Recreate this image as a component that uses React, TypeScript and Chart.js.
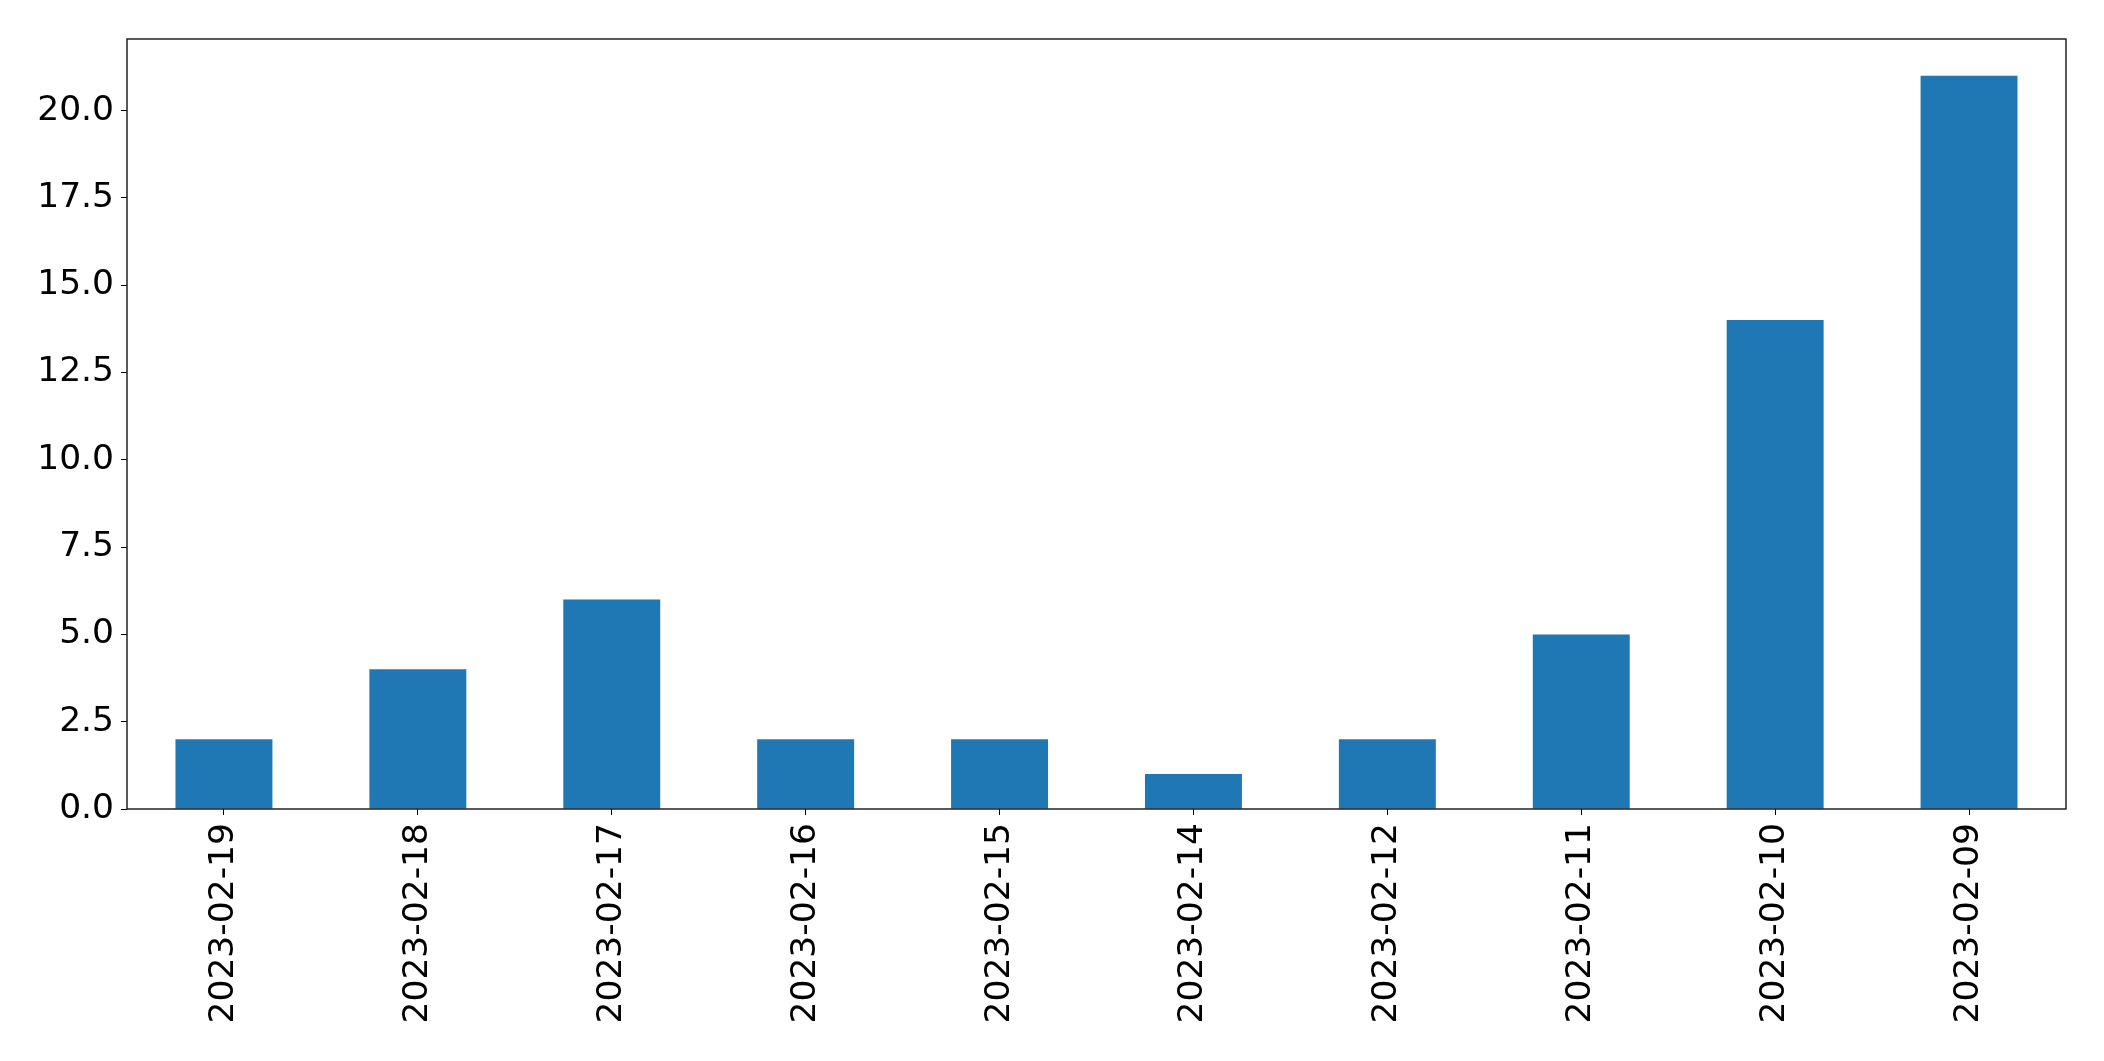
import React, { useEffect, useRef } from "react";
import { Chart, registerables } from "chart.js";

Chart.register(...registerables);

const categories: string[] = [
  "2023-02-19",
  "2023-02-18",
  "2023-02-17",
  "2023-02-16",
  "2023-02-15",
  "2023-02-14",
  "2023-02-12",
  "2023-02-11",
  "2023-02-10",
  "2023-02-09",
];
const counts: number[] = [2, 4, 6, 2, 2, 1, 2, 5, 14, 21];
const yTicks: number[] = [0, 2.5, 5, 7.5, 10, 12.5, 15, 17.5, 20];
const yMax = 22.05;

const W = 2104;
const H = 1061;

const frame = {
  id: "frame",
  afterDraw(chart: any) {
    const { ctx, chartArea } = chart;
    ctx.save();
    ctx.strokeStyle = "#000";
    ctx.lineWidth = 1.3;
    ctx.strokeRect(chartArea.left, chartArea.top, chartArea.right - chartArea.left, chartArea.bottom - chartArea.top);
    ctx.restore();
  },
};

export default function App() {
  const ref = useRef<HTMLCanvasElement | null>(null);
  useEffect(() => {
    document.body.style.margin = "0";
    const font = { family: "'DejaVu Sans'", size: 34.5 };
    const chart = new Chart(ref.current as HTMLCanvasElement, {
      type: "bar",
      data: {
        labels: categories,
        datasets: [
          {
            data: counts,
            backgroundColor: "#1f77b4",
            borderWidth: 0,
            categoryPercentage: 1,
            barPercentage: 0.5,
          },
        ],
      },
      options: {
        animation: false,
        responsive: false,
        devicePixelRatio: 1,
        layout: { padding: { left: 0, top: 39, right: 38, bottom: 0 } },
        plugins: { legend: { display: false }, tooltip: { enabled: false } },
        scales: {
          x: {
            offset: true,
            grid: { display: true, offset: false, drawOnChartArea: false, drawTicks: true, tickLength: 6, tickColor: "#000" },
            border: { display: false },
            ticks: { color: "#000", font, maxRotation: 90, minRotation: 90, padding: 8, autoSkip: false },
            afterFit(scale: any) {
              scale.height = H - 809;
            },
          },
          y: {
            min: 0,
            max: yMax,
            afterBuildTicks(scale: any) {
              scale.ticks = yTicks.map((v) => ({ value: v }));
            },
            grid: { display: true, drawOnChartArea: false, drawTicks: true, tickLength: 6, tickColor: "#000" },
            border: { display: false },
            ticks: {
              color: "#000",
              font,
              padding: 7,
              callback: (v: any) => Number(v).toFixed(1),
            },
            afterFit(scale: any) {
              scale.width = 127;
            },
          },
        },
      },
      plugins: [frame],
    });
    return () => chart.destroy();
  }, []);
  return (
    <div style={{ width: W, height: H, background: "#fff" }}>
      <canvas ref={ref} width={W} height={H} style={{ display: "block" }} />
    </div>
  );
}
